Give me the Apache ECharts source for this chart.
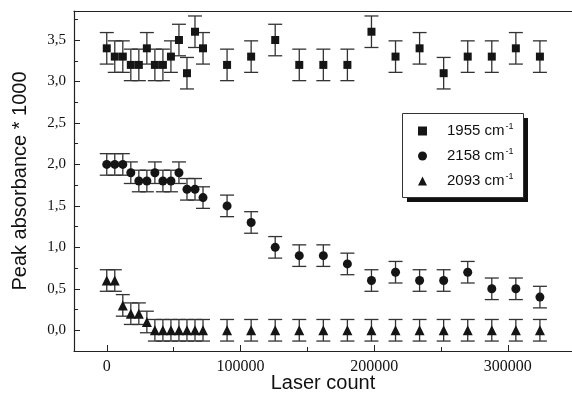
<!DOCTYPE html>
<html>
<head>
<meta charset="UTF-8">
<title>Peak absorbance vs laser count</title>
<script src="https://cdn.jsdelivr.net/npm/echarts@6/dist/echarts.min.js"></script>
<style>
  html, body { margin: 0; padding: 0; background: #fff; }
  #chart { width: 572px; height: 407px; }
</style>
</head>
<body>
<div id="chart"></div>
<script>
// laser count of each measurement (x)
var laserCount = [0, 6000, 12000, 18000, 24000, 30000, 36000, 42000, 48000, 54000, 60000, 66000, 72000,
                  90000, 108000, 126000, 144000, 162000, 180000, 198000, 216000, 234000, 252000, 270000, 288000, 306000, 324000];
// peak absorbance * 1000 for each band
var abs1955 = [3.4, 3.3, 3.3, 3.2, 3.2, 3.4, 3.2, 3.2, 3.3, 3.5, 3.1, 3.6, 3.4,
               3.2, 3.3, 3.5, 3.2, 3.2, 3.2, 3.6, 3.3, 3.4, 3.1, 3.3, 3.3, 3.4, 3.3];
var abs2158 = [2.0, 2.0, 2.0, 1.9, 1.8, 1.8, 1.9, 1.8, 1.8, 1.9, 1.7, 1.7, 1.6,
               1.5, 1.3, 1.0, 0.9, 0.9, 0.8, 0.6, 0.7, 0.6, 0.6, 0.7, 0.5, 0.5, 0.4];
var abs2093 = [0.6, 0.6, 0.3, 0.2, 0.2, 0.1, 0.0, 0.0, 0.0, 0.0, 0.0, 0.0, 0.0,
               0.0, 0.0, 0.0, 0.0, 0.0, 0.0, 0.0, 0.0, 0.0, 0.0, 0.0, 0.0, 0.0, 0.0];
// error bar half heights
var err1955 = 0.19;
var err2158 = 0.13;
var err2093 = 0.13;

var bandNames = ['1955', '2158', '2093'];

// ticks
var xMajorTicks = [0, 100000, 200000, 300000];
var xMinorTicks = [50000, 150000, 250000];
var yMajorTicks = [0, 0.5, 1.0, 1.5, 2.0, 2.5, 3.0, 3.5];
var yMinorTicks = [0.25, 0.75, 1.25, 1.75, 2.25, 2.75, 3.25, 3.75];

function points(ys) {
    return ys.map(function (y, i) { return [laserCount[i], y]; });
}
function bars(ys, e) {
    return ys.map(function (y, i) { return [laserCount[i], y - e, y + e]; });
}

var barColor = '#333';
function renderBar(params, api) {
    var x = api.value(0);
    var lo = api.coord([x, api.value(1)]);
    var hi = api.coord([x, api.value(2)]);
    var hw = 7;
    var st = { stroke: barColor, lineWidth: 1.3, fill: null };
    return {
        type: 'group',
        children: [
            { type: 'line', shape: { x1: lo[0], y1: lo[1], x2: hi[0], y2: hi[1] }, style: st },
            { type: 'line', shape: { x1: lo[0] - hw, y1: lo[1], x2: lo[0] + hw, y2: lo[1] }, style: st },
            { type: 'line', shape: { x1: hi[0] - hw, y1: hi[1], x2: hi[0] + hw, y2: hi[1] }, style: st }
        ]
    };
}

var chart = echarts.init(document.getElementById('chart'));

var xMin = -24500, xMax = 348000;
var yMin = -0.25, yMax = 3.85;

var option = {
    animation: false,
    backgroundColor: '#fff',
    grid: { left: 74, top: 11, right: 0, height: 340 },
    // legend frame with a hard drop shadow
    graphic: [
        { type: 'rect', left: 407, top: 118, z: 10, shape: { width: 121, height: 84 }, style: { fill: '#111' } },
        { type: 'rect', left: 402, top: 113, z: 11, shape: { width: 121, height: 84 }, style: { fill: '#fff', stroke: '#333', lineWidth: 1 } }
    ],
    legend: {
        orient: 'vertical',
        left: 418, top: 122,
        padding: 0,
        itemGap: 8.5,
        itemWidth: 9, itemHeight: 9,
        z: 20,
        selectedMode: false,
        data: bandNames,
        formatter: function (name) { return '{a|' + name + ' cm}{s|-1}'; },
        textStyle: {
            fontFamily: 'Liberation Sans', color: '#111',
            rich: {
                a: { fontFamily: 'Liberation Sans', fontSize: 15, padding: [0, 0, 0, 15], color: '#111' },
                s: { fontFamily: 'Liberation Sans', fontSize: 9, padding: [0, 0, 9, 1], color: '#111' }
            }
        }
    },
    xAxis: [{
        type: 'value', min: xMin, max: xMax,
        name: 'Laser count', nameLocation: 'middle', nameGap: 22, nameMoveOverlap: false,
        nameTextStyle: { fontFamily: 'Liberation Sans', fontSize: 20, color: '#111' },
        axisLine: { show: true, onZero: false, lineStyle: { color: '#222', width: 1.2 } },
        axisTick: { show: true, inside: true, length: 6, customValues: xMajorTicks, lineStyle: { color: '#222' } },
        axisLabel: {
            customValues: xMajorTicks, margin: 8, fontFamily: 'Liberation Serif', fontSize: 16, color: '#111',
            formatter: function (v) { return String(v); }
        },
        splitLine: { show: false }
    }, {
        type: 'value', min: xMin, max: xMax, position: 'bottom',
        axisLine: { show: false, onZero: false },
        axisTick: { show: true, inside: true, length: 4, customValues: xMinorTicks, lineStyle: { color: '#222' } },
        axisLabel: { show: false },
        splitLine: { show: false }
    }, {
        type: 'value', min: xMin, max: xMax, position: 'top',
        axisLine: { show: true, onZero: false, lineStyle: { color: '#222', width: 1.2 } },
        axisTick: { show: false },
        axisLabel: { show: false },
        splitLine: { show: false }
    }],
    yAxis: [{
        type: 'value', min: yMin, max: yMax,
        name: 'Peak absorbance * 1000', nameLocation: 'middle', nameGap: 44,
        nameTextStyle: { fontFamily: 'Liberation Sans', fontSize: 20, color: '#111' },
        axisLine: { show: true, onZero: false, lineStyle: { color: '#222', width: 1.2 } },
        axisTick: { show: true, inside: true, length: 6, customValues: yMajorTicks, lineStyle: { color: '#222' } },
        axisLabel: {
            customValues: yMajorTicks, margin: 8,
            fontFamily: 'Liberation Serif', fontSize: 15, color: '#111',
            formatter: function (v) { return v.toFixed(1).replace('.', ','); }
        },
        splitLine: { show: false }
    }, {
        type: 'value', min: yMin, max: yMax, position: 'left',
        axisLine: { show: false, onZero: false },
        axisTick: { show: true, inside: true, length: 4, customValues: yMinorTicks, lineStyle: { color: '#222' } },
        axisLabel: { show: false },
        splitLine: { show: false }
    }],
    series: [
        { type: 'custom', name: 'e1955', renderItem: renderBar, data: bars(abs1955, err1955), encode: { x: 0, y: [1, 2] }, z: 1 },
        { type: 'custom', name: 'e2158', renderItem: renderBar, data: bars(abs2158, err2158), encode: { x: 0, y: [1, 2] }, z: 1 },
        { type: 'custom', name: 'e2093', renderItem: renderBar, data: bars(abs2093, err2093), encode: { x: 0, y: [1, 2] }, z: 1 },
        { type: 'scatter', name: '1955', symbol: 'rect', symbolSize: 8, data: points(abs1955), itemStyle: { color: '#151515', opacity: 1 }, z: 3 },
        { type: 'scatter', name: '2158', symbol: 'circle', symbolSize: 9, data: points(abs2158), itemStyle: { color: '#151515', opacity: 1 }, z: 3 },
        { type: 'scatter', name: '2093', symbol: 'triangle', symbolSize: 10, data: points(abs2093), itemStyle: { color: '#151515', opacity: 1 }, z: 3 }
    ]
};

chart.setOption(option);
</script>
</body>
</html>
